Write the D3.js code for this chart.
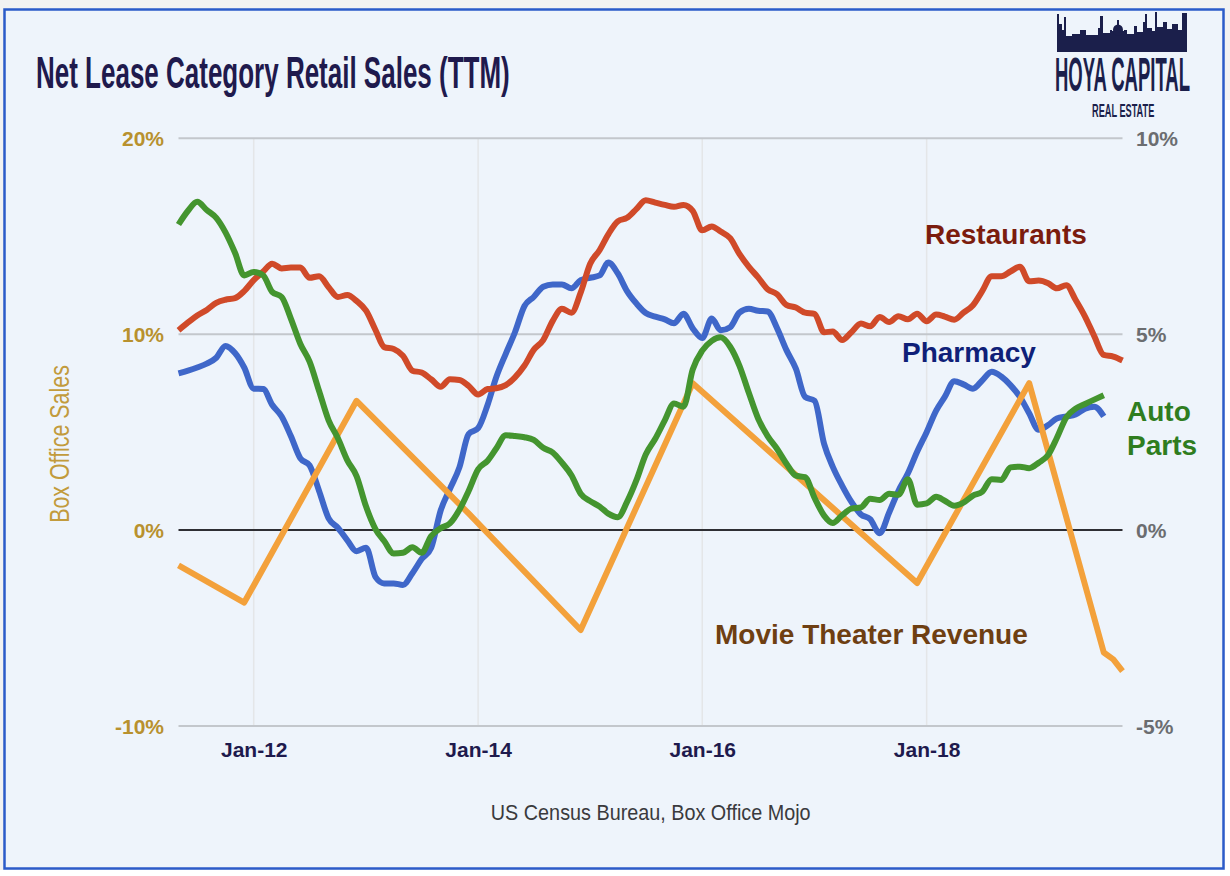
<!DOCTYPE html>
<html>
<head>
<meta charset="utf-8">
<script src="https://cdn.jsdelivr.net/npm/d3@7/dist/d3.min.js"></script>
<style>
  html, body { margin: 0; padding: 0; background: #f2f2f2; }
  svg { display: block; }
  text { font-family: "Liberation Sans", Arial, Helvetica, sans-serif; }
</style>
</head>
<body>
<svg id="chart" width="1230" height="876"></svg>
<script>
// ---------------- DATA ----------------
const startMonth = "2011-05";   // first monthly observation
const restaurants = [
  5.1, 5.3, 5.48, 5.62, 5.8, 5.88, 5.92, 6.1,
  6.38, 6.6, 6.8, 6.68, 6.7, 6.7, 6.44, 6.48, 6.2, 5.95,
  6.0, 5.85, 5.6, 5.1, 4.67, 4.62, 4.45, 4.07, 4.02, 3.85,
  3.66, 3.85, 3.83, 3.68, 3.46, 3.6, 3.62, 3.7, 3.9, 4.2,
  4.6, 4.85, 5.34, 5.65, 5.55, 6.06, 6.8, 7.15, 7.55, 7.88,
  7.97, 8.2, 8.42, 8.36, 8.3, 8.25, 8.3, 8.15, 7.65, 7.75,
  7.62, 7.45, 7.05, 6.72, 6.45, 6.15, 6.02, 5.75, 5.68, 5.55,
  5.52, 5.05, 5.07, 4.85, 5.05, 5.27, 5.2, 5.44, 5.31, 5.46,
  5.38, 5.52, 5.33, 5.5, 5.45, 5.37, 5.55, 5.74, 6.1, 6.48,
  6.48, 6.6, 6.72, 6.35, 6.37, 6.3, 6.17, 6.25, 5.88, 5.45,
  4.95, 4.47, 4.43, 4.33
];
const pharmacy = [
  4.0, 4.07, 4.15, 4.25, 4.4, 4.7, 4.52, 4.15,
  3.61, 3.6, 3.2, 2.9, 2.4, 1.83, 1.65, 1.0, 0.3, 0.06,
  -0.26, -0.54, -0.45, -1.2, -1.36, -1.36, -1.4, -1.1, -0.74, -0.45,
  0.5, 1.05, 1.6, 2.45, 2.6, 3.2, 3.9, 4.5, 5.05, 5.72,
  5.95, 6.21, 6.27, 6.27, 6.17, 6.38, 6.44, 6.5, 6.83, 6.55,
  6.1, 5.78, 5.54, 5.45, 5.38, 5.28, 5.52, 5.15, 4.9, 5.4,
  5.1, 5.18, 5.55, 5.65, 5.6, 5.58, 5.15, 4.6, 4.12, 3.4,
  3.3, 2.2, 1.62, 1.13, 0.72, 0.4, 0.28, -0.08, 0.45, 1.0,
  1.45, 2.0, 2.5, 3.05, 3.4, 3.8, 3.72, 3.61, 3.82, 4.04,
  3.92, 3.7, 3.4, 2.98, 2.56, 2.68, 2.85, 2.9, 2.95, 3.1,
  3.15, 2.9, null, null
];
const autoParts = [
  7.8, 8.15, 8.38, 8.17, 7.97, 7.6, 7.08, 6.5,
  6.59, 6.5, 6.08, 5.95, 5.4, 4.75, 4.3, 3.55, 2.8, 2.35,
  1.78, 1.38, 0.6, 0.02, -0.28, -0.6, -0.58, -0.44, -0.58, -0.15,
  0.05, 0.17, 0.52, 1.0, 1.55, 1.77, 2.08, 2.42, 2.4, 2.37,
  2.3, 2.1, 1.98, 1.72, 1.4, 0.93, 0.74, 0.6, 0.42, 0.33,
  0.72, 1.28, 1.93, 2.33, 2.8, 3.23, 3.15, 4.1, 4.58, 4.83,
  4.92, 4.68, 4.2, 3.5, 2.85, 2.4, 2.07, 1.7, 1.39, 1.35,
  0.82, 0.37, 0.18, 0.38, 0.55, 0.58, 0.8, 0.77, 0.93, 0.9,
  1.3, 0.65, 0.68, 0.85, 0.75, 0.62, 0.7, 0.88, 0.98, 1.3,
  1.28, 1.6, 1.62, 1.58, 1.72, 1.92, 2.35, 2.88, 3.1, 3.22,
  3.33, 3.44, null, null
];
// Box office (left axis)
const movieDates  = ["2011-05", "2011-12", "2012-12", "2013-12", "2014-12", "2015-12", "2017-12", "2018-12", "2019-08", "2019-09", "2019-10"];
const movieValues = [-1.8, -3.7, 6.6, 0.85, -5.1, 7.5, -2.7, 7.5, -6.25, -6.6, -7.2];

const leftTicks  = [-10, 0, 10, 20];
const rightTicks = [-5, 0, 5, 10];
const xTickDates = ["2012-01", "2014-01", "2016-01", "2018-01"];
const xTickLabels = ["Jan-12", "Jan-14", "Jan-16", "Jan-18"];

// ---------------- SETUP ----------------
const parse = d3.timeParse("%Y-%m");
const start = parse(startMonth);
const monthly = (arr) => arr.map((v, i) => ({ date: d3.timeMonth.offset(start, i), value: v }));

const svg = d3.select("#chart");
const W = 1230, H = 876;

svg.append("rect").attr("x", 1225).attr("y", 100).attr("width", 5).attr("height", H - 100).attr("fill", "#ffffff");
svg.append("rect").attr("x", 0).attr("y", 870).attr("width", W).attr("height", 6).attr("fill", "#ffffff");

// panel
svg.append("rect")
  .attr("x", 4.5).attr("y", 9.5).attr("width", 1219).attr("height", 859)
  .attr("fill", "#eef4fb").attr("stroke", "#2b5bc9").attr("stroke-width", 2.5);

const plotLeft = 178.5, plotRight = 1122.5, plotTop = 138.3, plotBottom = 726;

const x = d3.scaleTime()
  .domain([parse("2011-05"), parse("2019-10")])
  .range([plotLeft, plotRight]);
const yL = d3.scaleLinear().domain([-10, 20]).range([plotBottom, plotTop]);
const yR = d3.scaleLinear().domain([-5, 10]).range([plotBottom, plotTop]);

const g = svg.append("g");
g.selectAll("line.vgrid").data(xTickDates).enter().append("line")
  .attr("x1", d => x(parse(d))).attr("x2", d => x(parse(d)))
  .attr("y1", plotTop).attr("y2", plotBottom)
  .attr("stroke", "#e4e6e8").attr("stroke-width", 1.5);

g.selectAll("line.hgrid").data(leftTicks).enter().append("line")
  .attr("x1", plotLeft).attr("x2", plotRight)
  .attr("y1", d => yL(d)).attr("y2", d => yL(d))
  .attr("stroke", d => d === 0 ? "#2e2e33" : "#c3c7cc")
  .attr("stroke-width", 2);

const leftAxis = d3.axisLeft(yL).tickValues(leftTicks).tickFormat(d => d + "%").tickSize(0).tickPadding(0);
const la = svg.append("g").attr("transform", "translate(164,0)").call(leftAxis);
la.select(".domain").remove();
la.selectAll("text")
  .attr("fill", "#b8912e").attr("font-size", 21).attr("font-weight", "bold")
  .attr("dy", "0.36em");

const rightAxis = d3.axisRight(yR).tickValues(rightTicks).tickFormat(d => d + "%").tickSize(0).tickPadding(0);
const ra = svg.append("g").attr("transform", "translate(1136,0)").call(rightAxis);
ra.select(".domain").remove();
ra.selectAll("text")
  .attr("fill", "#6b6d70").attr("font-size", 21).attr("font-weight", "bold")
  .attr("dy", "0.36em");

const bottomAxis = d3.axisBottom(x).tickValues(xTickDates.map(parse))
  .tickFormat((d, i) => xTickLabels[i]).tickSize(0).tickPadding(0);
const ba = svg.append("g").attr("transform", "translate(0,742)").call(bottomAxis);
ba.select(".domain").remove();
ba.selectAll("text")
  .attr("fill", "#1e1a4d").attr("font-size", 21).attr("font-weight", "bold")
  .attr("dy", "0.71em");

// ---------------- LINES ----------------
const lineR = d3.line().defined(d => d.value !== null)
  .x(d => x(d.date)).y(d => yR(d.value)).curve(d3.curveMonotoneX);
const lineL = d3.line().x(d => x(d.date)).y(d => yL(d.value)).curve(d3.curveLinear);

const movieData = movieDates.map((d, i) => ({ date: parse(d), value: movieValues[i] }));

const series = [
  { data: monthly(pharmacy),   color: "#3f67c9", gen: lineR },
  { data: movieData,           color: "#f3a13b", gen: lineL },
  { data: monthly(restaurants),color: "#d04a29", gen: lineR },
  { data: monthly(autoParts),  color: "#44952f", gen: lineR },
];
svg.append("g").selectAll("path").data(series).enter().append("path")
  .attr("d", s => s.gen(s.data))
  .attr("fill", "none")
  .attr("stroke", s => s.color)
  .attr("stroke-width", 6)
  .attr("stroke-linejoin", "round")
  .attr("stroke-linecap", "butt");

// ---------------- TEXT ----------------
svg.append("text").attr("transform", "translate(36,88) scale(1,1.72)")
  .attr("font-size", 26).attr("font-weight", "bold").attr("fill", "#1f1a4d")
  .text("Net Lease Category Retail Sales (TTM)");

svg.append("text")
  .attr("transform", "translate(69,444) rotate(-90) scale(1,1.3)")
  .attr("text-anchor", "middle")
  .attr("font-size", 21.4).attr("fill", "#c29b3c")
  .text("Box Office Sales");

svg.append("text").attr("transform", "translate(650.7,820) scale(1,1.15)").attr("text-anchor", "middle")
  .attr("font-size", 19.8).attr("fill", "#3a3a3d")
  .text("US Census Bureau, Box Office Mojo");

const labels = [
  { t: "Restaurants", x: 925, y: 244, c: "#7b1c0e" },
  { t: "Pharmacy", x: 902, y: 362, c: "#0f1f78" },
  { t: "Auto", x: 1127, y: 421, c: "#2f7d1f" },
  { t: "Parts", x: 1127, y: 455, c: "#2f7d1f" },
  { t: "Movie Theater Revenue", x: 715, y: 644, c: "#6e3f12" },
];
svg.append("g").selectAll("text").data(labels).enter().append("text")
  .attr("x", d => d.x).attr("y", d => d.y)
  .attr("font-size", 28).attr("font-weight", "bold").attr("fill", d => d.c)
  .text(d => d.t);

// ---------------- LOGO ----------------
const logo = svg.append("g");
const navy = "#1b1f4b";
const buildings = [
  [1057, 1059, 14], [1059, 1062, 24], [1062, 1064, 30], [1064, 1066, 17], [1066, 1072, 36],
  [1072, 1080, 34], [1080, 1086, 30], [1086, 1098, 35], [1098, 1100, 28], [1100, 1103, 16],
  [1103, 1110, 33], [1110, 1112, 30], [1124, 1127, 30], [1127, 1134, 34], [1134, 1137, 26],
  [1137, 1143, 32], [1143, 1145, 22], [1145, 1147, 14], [1147, 1152, 28], [1152, 1155, 31],
  [1155, 1157, 12], [1157, 1163, 27], [1163, 1167, 22], [1167, 1172, 29], [1172, 1178, 24],
  [1178, 1182, 30], [1182, 1187, 13]
];
logo.selectAll("rect.b").data(buildings).enter().append("rect")
  .attr("x", d => d[0]).attr("y", d => d[2]).attr("width", d => d[1] - d[0]).attr("height", d => 44 - d[2])
  .attr("fill", navy);
logo.append("rect").attr("x", 1112).attr("y", 31).attr("width", 12).attr("height", 13).attr("fill", navy);
logo.append("ellipse").attr("cx", 1118).attr("cy", 30).attr("rx", 5).attr("ry", 5.5).attr("fill", navy);
logo.append("rect").attr("x", 1117).attr("y", 20).attr("width", 2).attr("height", 7).attr("fill", navy);
logo.append("rect").attr("x", 1057).attr("y", 42).attr("width", 130).attr("height", 10).attr("fill", navy);
logo.append("text").attr("transform", "translate(1055,90.5) scale(1,2.55)")
  .attr("font-size", 18.5).attr("font-weight", "bold").attr("fill", navy)
  .text("HOYA CAPITAL");
logo.append("text").attr("transform", "translate(1092,116.5) scale(1,1.95)")
  .attr("font-size", 9.2).attr("font-weight", "bold").attr("fill", navy)
  .text("REAL ESTATE");
</script>
</body>
</html>
